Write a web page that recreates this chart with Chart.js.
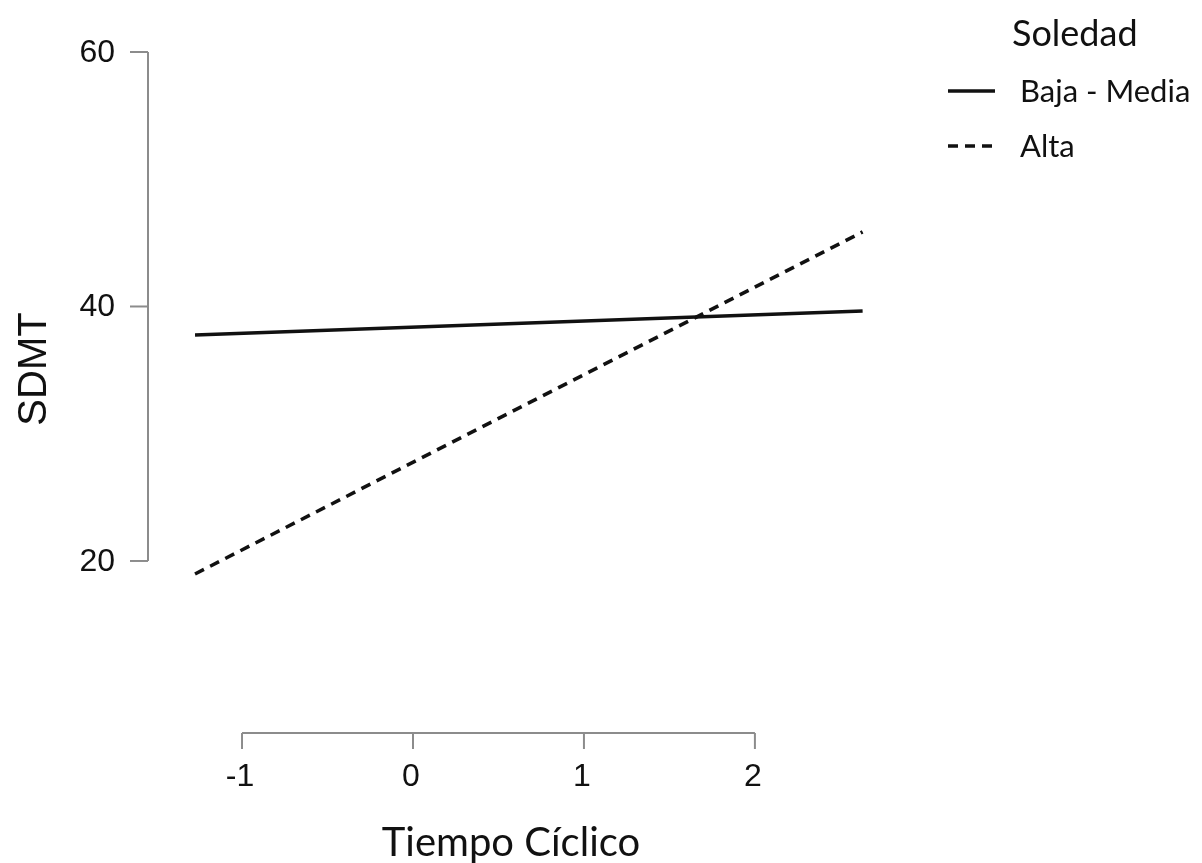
<!DOCTYPE html>
<html>
<head>
<meta charset="utf-8">
<script src="https://cdn.jsdelivr.net/npm/chart.js@4"></script>
<style>
  body { margin: 0; background: #fff; }
  canvas { display: block; }
</style>
</head>
<body>
<canvas id="chart" width="1202" height="863"></canvas>
<script>
// Data
const xValues = [-1.275, 2.63];
const bajaMedia = [37.76, 39.65];
const alta = [18.98, 45.86];
const xTicks = [-1, 0, 1, 2];
const yTicks = [20, 40, 60];
const seriesLabels = ['Baja - Media', 'Alta'];

const axisColor = '#8c8c8c';
const lineColor = '#111';

// R-style axes: lines only span from first to last tick
const axesPlugin = {
    id: 'rAxes',
    afterDraw(chart) {
        const ctx = chart.ctx;
        const area = chart.chartArea;
        const xs = chart.scales.x;
        const ys = chart.scales.y;

        ctx.save();
        ctx.strokeStyle = axisColor;
        ctx.lineWidth = 2;
        ctx.fillStyle = '#111';

        // y axis
        const x0 = area.left;
        ctx.beginPath();
        ctx.moveTo(x0, ys.getPixelForValue(yTicks[0]));
        ctx.lineTo(x0, ys.getPixelForValue(yTicks[yTicks.length - 1]));
        ctx.stroke();
        ctx.font = '32px "Liberation Sans", Arial, sans-serif';
        ctx.textAlign = 'right';
        ctx.textBaseline = 'middle';
        yTicks.forEach(v => {
            const py = ys.getPixelForValue(v);
            ctx.beginPath();
            ctx.moveTo(x0 - 18, py);
            ctx.lineTo(x0, py);
            ctx.stroke();
            ctx.fillText(String(v), x0 - 33, py + 1);
        });

        // x axis
        const y0 = area.bottom;
        ctx.beginPath();
        ctx.moveTo(xs.getPixelForValue(xTicks[0]), y0);
        ctx.lineTo(xs.getPixelForValue(xTicks[xTicks.length - 1]), y0);
        ctx.stroke();
        ctx.textAlign = 'center';
        xTicks.forEach(v => {
            const px = xs.getPixelForValue(v);
            ctx.beginPath();
            ctx.moveTo(px, y0);
            ctx.lineTo(px, y0 + 16);
            ctx.stroke();
            ctx.fillText(String(v), px - 2, y0 + 44);
        });

        // axis titles
        ctx.font = '40px "Liberation Sans", Arial, sans-serif';
        ctx.save();
        ctx.translate(35, 369);
        ctx.rotate(-Math.PI / 2);
        ctx.textBaseline = 'middle';
        ctx.fillText('SDMT', 0, 0);
        ctx.restore();

        ctx.font = '40px Lato, sans-serif';
        ctx.textBaseline = 'alphabetic';
        ctx.fillText('Tiempo Cíclico', 511, 856);

        // legend
        ctx.textAlign = 'left';
        ctx.font = '36px Lato, sans-serif';
        ctx.fillText('Soledad', 1012, 46);
        ctx.font = '31px Lato, sans-serif';
        const rows = [91, 146];
        chart.data.datasets.forEach((ds, i) => {
            ctx.strokeStyle = ds.borderColor;
            ctx.lineWidth = 3.5;
            ctx.setLineDash(ds.borderDash || []);
            ctx.beginPath();
            ctx.moveTo(948, rows[i]);
            ctx.lineTo(995, rows[i]);
            ctx.stroke();
            ctx.setLineDash([]);
            ctx.textBaseline = 'middle';
            ctx.fillText(ds.label, 1020, rows[i] + 1);
        });
        ctx.restore();
    }
};

function toPoints(ys) {
    return xValues.map((x, i) => ({ x: x, y: ys[i] }));
}

new Chart(document.getElementById('chart'), {
    type: 'scatter',
    data: {
        datasets: [
            {
                label: seriesLabels[0],
                data: toPoints(bajaMedia),
                showLine: true,
                borderColor: lineColor,
                borderWidth: 3.5,
                pointRadius: 0
            },
            {
                label: seriesLabels[1],
                data: toPoints(alta),
                showLine: true,
                borderColor: lineColor,
                borderWidth: 3.5,
                borderDash: [10, 7],
                pointRadius: 0
            }
        ]
    },
    options: {
        responsive: false,
        animation: false,
        layout: {
            padding: { left: 148, top: 52, right: 324, bottom: 130 }
        },
        scales: {
            x: { type: 'linear', min: -1.55, max: 2.72, display: false },
            y: { type: 'linear', min: 6.48, max: 60, display: false }
        },
        plugins: {
            legend: { display: false },
            tooltip: { enabled: false }
        }
    },
    plugins: [axesPlugin]
});
</script>
</body>
</html>
